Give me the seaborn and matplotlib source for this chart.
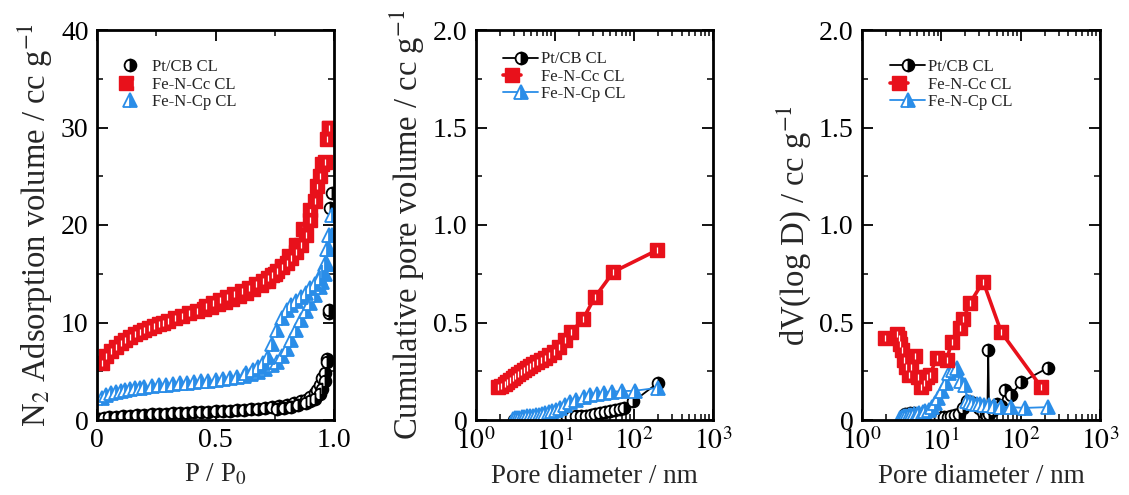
import matplotlib
matplotlib.use("Agg")
import matplotlib.pyplot as plt
import seaborn as sns
from matplotlib.legend_handler import HandlerTuple
from matplotlib.ticker import MultipleLocator, LogLocator, FixedLocator, NullFormatter

# ---------------- data ----------------
series_names = ["Pt/CB CL", "Fe-N-Cc CL", "Fe-N-Cp CL"]

# Panel 1: N2 isotherms (adsorption + desorption branches)
pt_ads_p = [0.01, 0.03, 0.05, 0.08, 0.11, 0.14, 0.17, 0.20, 0.23, 0.26, 0.29, 0.32, 0.35, 0.38, 0.41,
            0.44, 0.47, 0.50, 0.53, 0.56, 0.59, 0.62, 0.65, 0.68, 0.71, 0.74, 0.77, 0.80, 0.83, 0.86,
            0.88, 0.90, 0.92, 0.93, 0.94, 0.95, 0.96, 0.97, 0.98, 0.985]
pt_ads_v = [0.1, 0.2, 0.3, 0.35, 0.4, 0.45, 0.5, 0.55, 0.6, 0.6, 0.65, 0.7, 0.7, 0.75, 0.8,
            0.8, 0.85, 0.9, 0.9, 0.95, 1.0, 1.05, 1.1, 1.15, 1.2, 1.3, 1.4, 1.5, 1.7, 1.9,
            2.1, 2.4, 2.8, 3.1, 3.6, 4.3, 4.8, 6.3, 11.0, 21.7]
pt_des_p = [0.99, 0.98, 0.97, 0.96, 0.95, 0.94, 0.92, 0.90, 0.88, 0.85, 0.82, 0.79, 0.76]
pt_des_v = [23.3, 11.3, 6.0, 4.0, 3.2, 2.7, 2.2, 1.9, 1.7, 1.5, 1.35, 1.25, 1.15]

fec_ads_p = [0.02, 0.04, 0.06, 0.08, 0.10, 0.12, 0.14, 0.16, 0.18, 0.20, 0.22, 0.24, 0.26, 0.28, 0.30,
             0.33, 0.36, 0.39, 0.42, 0.45, 0.48, 0.51, 0.54, 0.57, 0.60, 0.63, 0.66, 0.69, 0.72, 0.75,
             0.78, 0.81, 0.84, 0.87, 0.90, 0.93, 0.95, 0.97, 0.98]
fec_ads_v = [5.8, 6.6, 7.1, 7.5, 7.9, 8.2, 8.5, 8.8, 9.0, 9.2, 9.4, 9.6, 9.8, 10.0, 10.2,
             10.5, 10.7, 11.0, 11.2, 11.4, 11.6, 11.9, 12.1, 12.4, 12.7, 13.0, 13.4, 13.8, 14.3, 15.0,
             15.8, 16.8, 18.0, 19.6, 21.5, 24.0, 26.3, 28.8, 30.0]
fec_des_p = [0.98, 0.96, 0.94, 0.92, 0.90, 0.88, 0.86, 0.84, 0.82, 0.80, 0.78, 0.76, 0.74, 0.72, 0.70,
             0.67, 0.64, 0.61, 0.58, 0.55, 0.52, 0.49, 0.46]
fec_des_v = [30.0, 26.5, 25.0, 22.5, 20.5, 19.0, 18.0, 17.2, 16.6, 16.1, 15.7, 15.3, 14.9, 14.6, 14.3,
             13.9, 13.5, 13.2, 12.9, 12.6, 12.3, 12.0, 11.7]

fep_ads_p = [0.02, 0.04, 0.06, 0.08, 0.10, 0.12, 0.14, 0.16, 0.18, 0.20, 0.23, 0.26, 0.29, 0.32, 0.35,
             0.38, 0.41, 0.44, 0.47, 0.50, 0.53, 0.56, 0.59, 0.62, 0.65, 0.68, 0.71, 0.74, 0.76, 0.78,
             0.80, 0.82, 0.84, 0.86, 0.88, 0.90, 0.92, 0.94, 0.95, 0.96, 0.97, 0.98, 0.99]
fep_ads_v = [2.3, 2.6, 2.8, 2.9, 3.0, 3.1, 3.2, 3.25, 3.3, 3.4, 3.5, 3.55, 3.6, 3.7, 3.75,
             3.8, 3.9, 3.95, 4.0, 4.1, 4.2, 4.3, 4.4, 4.5, 4.7, 4.9, 5.2, 5.6, 6.0, 6.6,
             7.3, 8.2, 9.2, 10.3, 11.2, 12.0, 12.8, 13.6, 14.2, 15.0, 16.0, 17.5, 19.0]
fep_des_p = [0.99, 0.98, 0.97, 0.96, 0.95, 0.94, 0.92, 0.90, 0.88, 0.86, 0.84, 0.82, 0.80, 0.78, 0.76,
             0.74, 0.72, 0.70, 0.68, 0.66, 0.63]
fep_des_v = [21.0, 19.0, 17.5, 16.0, 15.2, 14.6, 14.0, 13.5, 13.0, 12.6, 12.2, 11.8, 11.3, 10.5, 9.2,
             7.8, 6.5, 5.8, 5.4, 5.1, 4.8]

# Panel 2: cumulative pore volume
pt_cum_d = [3.0, 3.5, 4.0, 4.6, 5.3, 6.1, 7.0, 8.0, 9.2, 10.6, 12.2, 14.0, 16.1, 18.5, 21.3, 24.5,
            28.2, 32.5, 37.5, 43, 50, 58, 67, 75, 98, 200]
pt_cum_v = [0.0, 0.0, 0.0, 0.002, 0.003, 0.004, 0.005, 0.006, 0.008, 0.01, 0.012, 0.014, 0.016, 0.018,
            0.02, 0.023, 0.026, 0.03, 0.034, 0.04, 0.045, 0.05, 0.055, 0.06, 0.095, 0.19]
fec_cum_d = [1.92, 2.1, 2.3, 2.5, 2.7, 2.9, 3.1, 3.4, 3.7, 4.0, 4.4, 4.8, 5.3, 5.9, 6.6, 7.4, 8.4,
             9.6, 11.2, 13.2, 16.0, 22.8, 32, 55, 194]
fec_cum_v = [0.17, 0.175, 0.185, 0.195, 0.205, 0.215, 0.225, 0.235, 0.245, 0.255, 0.265, 0.275, 0.285,
             0.295, 0.31, 0.32, 0.335, 0.35, 0.375, 0.41, 0.45, 0.52, 0.63, 0.76, 0.87]
fep_cum_d = [2.9, 3.1, 3.3, 3.5, 3.8, 4.1, 4.4, 4.8, 5.2, 5.7, 6.2, 6.8, 7.5, 8.3, 9.2, 10.3, 11.6,
             13.3, 15.5, 18.5, 23, 28, 34, 42, 52, 70, 102, 200]
fep_cum_v = [0.005, 0.008, 0.01, 0.012, 0.014, 0.016, 0.018, 0.02, 0.022, 0.025, 0.028, 0.032, 0.036,
             0.04, 0.046, 0.053, 0.062, 0.075, 0.09, 0.105, 0.118, 0.128, 0.135, 0.14, 0.145, 0.148,
             0.15, 0.165]

# Panel 3: dV(log D)
pt_dv_d = [3.5, 4.0, 4.5, 5.0, 5.6, 6.2, 6.9, 7.7, 8.6, 9.6, 10.7, 12.0, 13.4, 15.0, 16.8, 18.8, 21,
           24, 27, 30, 34, 37, 38, 39, 40, 45, 50, 57, 63, 76, 101, 219]
pt_dv_v = [0.03, 0.035, 0.035, 0.03, 0.02, 0.01, 0.01, 0.01, 0.01, 0.01, 0.015, 0.015, 0.02, 0.025,
           0.03, 0.06, 0.10, 0.09, 0.08, 0.06, 0.04, 0.03, 0.02, 0.36, 0.03, 0.05, 0.08, 0.07, 0.155,
           0.13, 0.193, 0.267]
fec_dv_d = [1.96, 2.75, 2.9, 3.05, 3.2, 3.4, 3.6, 3.9, 4.2, 4.6, 5.1, 5.5, 6.0, 6.6, 7.2, 8.7, 11.7,
            13.5, 17.2, 18.9, 23, 33.7, 57, 181]
fec_dv_v = [0.42, 0.44, 0.42, 0.39, 0.36, 0.31, 0.27, 0.23, 0.27, 0.33, 0.22, 0.17, 0.19, 0.22, 0.23,
            0.32, 0.31, 0.40, 0.47, 0.52, 0.60, 0.71, 0.45, 0.17]
fep_dv_d = [3.0, 3.2, 3.4, 3.6, 3.9, 4.2, 4.5, 4.9, 5.3, 5.8, 6.3, 6.9, 7.6, 8.3, 9.2, 10.2, 11.3,
            12.5, 14.0, 15.6, 17.5, 19.9, 21, 23, 25, 28, 31, 35, 40, 46, 57, 76, 112, 219]
fep_dv_v = [0.01, 0.015, 0.02, 0.02, 0.025, 0.025, 0.03, 0.03, 0.035, 0.04, 0.045, 0.05, 0.065, 0.086,
            0.115, 0.15, 0.19, 0.24, 0.255, 0.267, 0.20, 0.18, 0.10, 0.09, 0.085, 0.08, 0.08, 0.075,
            0.075, 0.07, 0.069, 0.066, 0.062, 0.066]

# ---------------- style ----------------
sns.set_theme(style="ticks")
plt.rcParams["font.family"] = ["Liberation Serif", "DejaVu Serif"]
plt.rcParams["mathtext.fontset"] = "stix"

RED = "#E8111B"
BLUE = "#2A8DE8"
BLACK = "black"

styles = {
    "Pt/CB CL": dict(marker="o", markersize=8.5, fillstyle="right", markerfacecolor=BLACK,
                     markerfacecoloralt="white", markeredgecolor=BLACK, markeredgewidth=1.3,
                     color=BLACK, linewidth=1.3),
    "Fe-N-Cc CL": dict(marker="s", markersize=10, fillstyle="full", markerfacecolor=RED,
                       markerfacecoloralt=RED, markeredgecolor=RED,
                       markeredgewidth=1.0, color=RED, linewidth=2.6),
    "Fe-N-Cp CL": dict(marker="^", markersize=9.5, fillstyle="right", markerfacecolor=BLUE,
                       markerfacecoloralt="white", markeredgecolor=BLUE, markeredgewidth=1.3,
                       color=BLUE, linewidth=1.3),
}
stripe = dict(marker="|", markersize=4.0, markeredgewidth=0.9, color="white",
              markeredgecolor="white", linestyle="none")

fig = plt.figure(figsize=(11.29, 4.95), dpi=100)
axes = [fig.add_axes([97 / 1129, 75 / 495, 237 / 1129, 390 / 495]),
        fig.add_axes([476 / 1129, 75 / 495, 237 / 1129, 390 / 495]),
        fig.add_axes([862 / 1129, 75 / 495, 238 / 1129, 390 / 495])]

FS = 20      # tick labels
FS_X = 19.5  # x-axis titles
FS_Y = 23.5  # y-axis titles


def draw(ax, name, xs, ys, lines=True):
    st = dict(styles[name])
    if not lines:
        st["linestyle"] = "none"
    sns.lineplot(x=xs, y=ys, ax=ax, sort=False, estimator=None, errorbar=None)
    h = ax.lines[-1]
    h.set(**st)
    if name == "Fe-N-Cc CL":
        sns.lineplot(x=xs, y=ys, ax=ax, sort=False, estimator=None, errorbar=None)
        s = ax.lines[-1]
        s.set(**stripe)
        return (h, s)
    return h


def style_axes(ax):
    for s in ax.spines.values():
        s.set_linewidth(2.0)
        s.set_color("black")
    ax.tick_params(which="both", direction="in", top=True, right=True, colors="black",
                   labelsize=FS, pad=6)
    ax.tick_params(which="major", length=8, width=1.3)
    ax.tick_params(which="minor", length=4, width=1.1)
    ax.grid(False)
    ax.set_facecolor("white")


# ---- panel 1 ----
ax = axes[0]
h_pt = draw(ax, "Pt/CB CL", pt_ads_p, pt_ads_v, lines=False)
draw(ax, "Pt/CB CL", pt_des_p, pt_des_v, lines=False)
h_fep = draw(ax, "Fe-N-Cp CL", fep_ads_p, fep_ads_v, lines=False)
draw(ax, "Fe-N-Cp CL", fep_des_p, fep_des_v, lines=False)
h_fec = draw(ax, "Fe-N-Cc CL", fec_ads_p, fec_ads_v, lines=False)
draw(ax, "Fe-N-Cc CL", fec_des_p, fec_des_v, lines=False)
ax.set_xlim(0, 1.0)
ax.set_ylim(0, 40)
ax.xaxis.set_major_locator(FixedLocator([0, 0.5, 1.0]))
ax.set_xticklabels(["0", "0.5", "1.0"])
ax.xaxis.set_minor_locator(MultipleLocator(0.25))
ax.yaxis.set_major_locator(FixedLocator([0, 10, 20, 30, 40]))
ax.set_yticklabels(["0", "10", "20", "30", "40"])
ax.yaxis.set_minor_locator(MultipleLocator(5))
style_axes(ax)
ax.set_xlabel("P / P$_0$", fontsize=FS_X, labelpad=6)
ax.set_ylabel("N$_2$ Adsorption volume / cc g$^{-1}$", fontsize=FS_Y, labelpad=4)
ax.legend([h_pt, h_fec, h_fep], series_names, handler_map={tuple: HandlerTuple(ndivide=None)},
          loc="upper left", bbox_to_anchor=(0.105, 0.925), frameon=False, fontsize=12,
          handlelength=1.0, handletextpad=0.8, labelspacing=0.08, borderpad=0, borderaxespad=0)

# ---- panels 2 and 3 ----
panel_data = [
    (axes[1], (pt_cum_d, pt_cum_v), (fec_cum_d, fec_cum_v), (fep_cum_d, fep_cum_v),
     "Cumulative pore volume / cc g$^{-1}$", (0.114, 0.945)),
    (axes[2], (pt_dv_d, pt_dv_v), (fec_dv_d, fec_dv_v), (fep_dv_d, fep_dv_v),
     "dV(log D) / cc g$^{-1}$", (0.118, 0.925)),
]
for ax, pt, fec, fep, ylab, anchor in panel_data:
    h_pt = draw(ax, "Pt/CB CL", *pt)
    h_fep = draw(ax, "Fe-N-Cp CL", *fep)
    h_fec = draw(ax, "Fe-N-Cc CL", *fec)
    ax.set_xscale("log")
    ax.set_xlim(1, 1000)
    ax.set_ylim(0, 2.0)
    ax.xaxis.set_major_locator(FixedLocator([1, 10, 100, 1000]))
    ax.set_xticklabels(["$10^{0}$", "$10^{1}$", "$10^{2}$", "$10^{3}$"])
    ax.xaxis.set_minor_locator(LogLocator(base=10, subs=range(2, 10), numticks=20))
    ax.xaxis.set_minor_formatter(NullFormatter())
    ax.yaxis.set_major_locator(FixedLocator([0, 0.5, 1.0, 1.5, 2.0]))
    ax.set_yticklabels(["0", "0.5", "1.0", "1.5", "2.0"])
    ax.yaxis.set_minor_locator(MultipleLocator(0.25))
    style_axes(ax)
    ax.set_xlabel("Pore diameter / nm", fontsize=FS_X, labelpad=6)
    ax.set_ylabel(ylab, fontsize=FS_Y, labelpad=4)
    ax.legend([h_pt, h_fec, h_fep], series_names, handler_map={tuple: HandlerTuple(ndivide=None)},
              loc="upper left", bbox_to_anchor=anchor, frameon=False, fontsize=12,
              handlelength=2.1, handletextpad=0.15, labelspacing=0.08, borderpad=0,
              borderaxespad=0)

fig.savefig("out.png", dpi=100, facecolor="white")
